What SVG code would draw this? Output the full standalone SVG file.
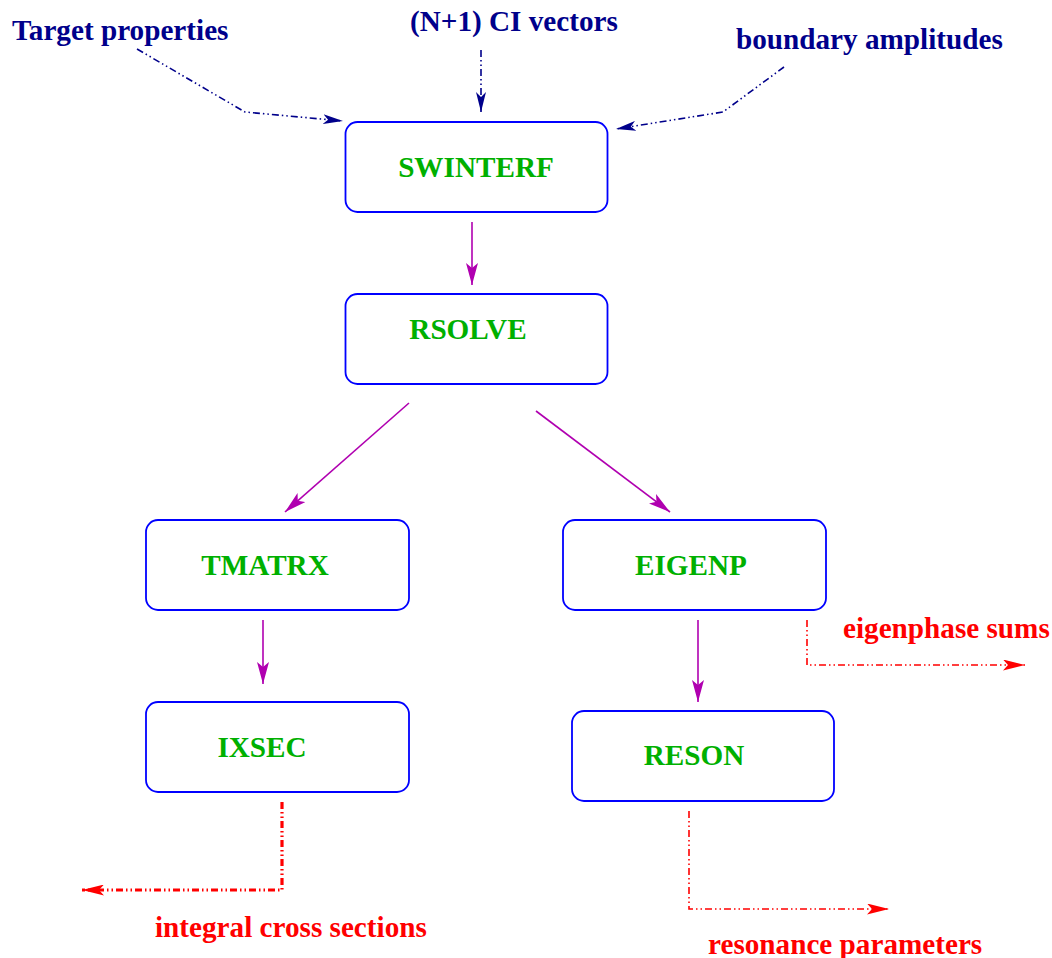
<svg xmlns="http://www.w3.org/2000/svg" width="1052" height="958" viewBox="0 0 1052 958">
<style>
  .box { fill: #ffffff; stroke: #0000ff; stroke-width: 1.8; }
  .lbl { font-family: "Liberation Serif", "Times New Roman", serif; font-weight: bold; font-size: 29.2px; }
  .node { fill: #00b000; text-anchor: middle; }
  .in { fill: #00008b; }
  .out { fill: #ff0000; }
  .flow { stroke: #b000b0; stroke-width: 1.6; fill: none; }
  .inl { stroke: #00008b; stroke-width: 1.6; fill: none; stroke-dasharray: 7 3 1.5 3 1.5 3; }
  .outl { stroke: #ff0000; stroke-width: 1.6; fill: none; stroke-dasharray: 7 3 1.5 3 1.5 3; }
  .outthick { stroke-width: 3.2; }
</style>
<defs>
  <marker id="ah-m" markerUnits="userSpaceOnUse" viewBox="0 0 22 12" markerWidth="22" markerHeight="12" refX="22" refY="6" orient="auto">
    <path d="M0,0 L22,6 L0,12 L5,6 z" fill="#b000b0"/>
  </marker>
  <marker id="ah-b" markerUnits="userSpaceOnUse" viewBox="0 0 20 10" markerWidth="20" markerHeight="10" refX="20" refY="5" orient="auto">
    <path d="M0,0 L20,5 L0,10 L5,5 z" fill="#00008b"/>
  </marker>
  <marker id="ah-r" markerUnits="userSpaceOnUse" viewBox="0 0 22 11" markerWidth="22" markerHeight="11" refX="22" refY="5.5" orient="auto">
    <path d="M0,0 L22,5.5 L0,11 L5,5.5 z" fill="#ff0000"/>
  </marker>
</defs>

<g id="connectors">
  <path class="flow" d="M472,222 L472,285" marker-end="url(#ah-m)"/>
  <path class="flow" d="M409,403 L285,512" marker-end="url(#ah-m)"/>
  <path class="flow" d="M536,411 L670,512" marker-end="url(#ah-m)"/>
  <path class="flow" d="M263,620 L263,684" marker-end="url(#ah-m)"/>
  <path class="flow" d="M698,620 L698,702" marker-end="url(#ah-m)"/>

  <path class="inl" d="M137,49 L245,112 L343,121" marker-end="url(#ah-b)"/>
  <path class="inl" d="M481,50 L481,112" marker-end="url(#ah-b)"/>
  <path class="inl" d="M784,67 L723,112 L616,129" marker-end="url(#ah-b)"/>

  <path class="outl" d="M807,620 L807,665 L1025,665" marker-end="url(#ah-r)"/>
  <path class="outl outthick" d="M282,802 L282,890 L82,890" marker-end="url(#ah-r)"/>
  <path class="outl" d="M689,811 L689,909 L889,909" marker-end="url(#ah-r)"/>
</g>

<g id="swinterf">
  <rect class="box" x="345.5" y="122" width="262" height="90" rx="12"/>
  <text class="lbl node" x="476" y="177">SWINTERF</text>
</g>
<g id="rsolve">
  <rect class="box" x="345.5" y="294" width="262" height="90" rx="12"/>
  <text class="lbl node" x="468" y="339">RSOLVE</text>
</g>
<g id="tmatrx">
  <rect class="box" x="146" y="520" width="263" height="90" rx="12"/>
  <text class="lbl node" x="265" y="575">TMATRX</text>
</g>
<g id="eigenp">
  <rect class="box" x="563" y="520" width="263" height="90" rx="12"/>
  <text class="lbl node" x="691" y="575">EIGENP</text>
</g>
<g id="ixsec">
  <rect class="box" x="146" y="702" width="263" height="90" rx="12"/>
  <text class="lbl node" x="262" y="757">IXSEC</text>
</g>
<g id="reson">
  <rect class="box" x="572" y="711" width="262" height="90" rx="12"/>
  <text class="lbl node" x="694" y="765">RESON</text>
</g>

<g id="inputs">
  <text class="lbl in" x="12" y="40">Target properties</text>
  <text class="lbl in" x="410" y="31">(N+1) CI vectors</text>
  <text class="lbl in" x="736" y="49">boundary amplitudes</text>
</g>
<g id="outputs">
  <text class="lbl out" x="843" y="638">eigenphase sums</text>
  <text class="lbl out" x="155" y="937">integral cross sections</text>
  <text class="lbl out" x="708" y="954">resonance parameters</text>
</g>
</svg>
